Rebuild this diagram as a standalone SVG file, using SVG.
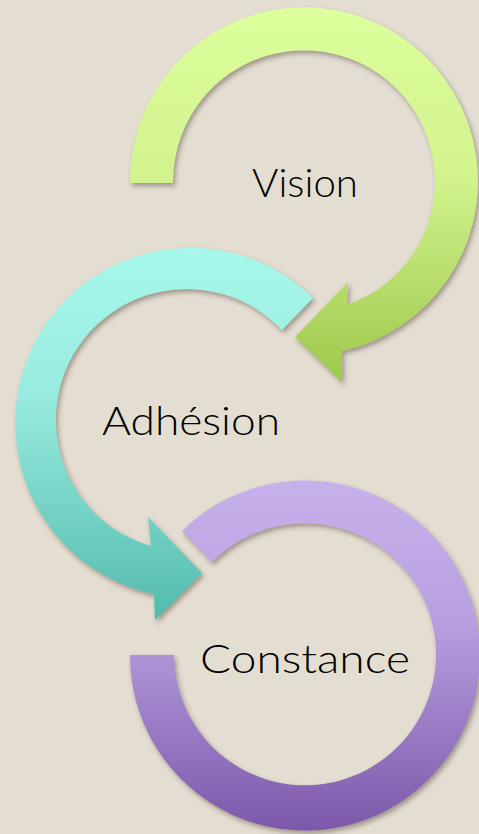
<svg xmlns="http://www.w3.org/2000/svg" width="479" height="834" viewBox="0 0 479 834">
  <defs>
    <linearGradient id="gGreen" x1="0" y1="0" x2="0" y2="1">
      <stop offset="0" stop-color="#dcfe9c"/>
      <stop offset="0.45" stop-color="#d2f38e"/>
      <stop offset="1" stop-color="#9ec84b"/>
    </linearGradient>
    <linearGradient id="gTeal" x1="0" y1="0" x2="0" y2="1">
      <stop offset="0" stop-color="#a6f8eb"/>
      <stop offset="0.4" stop-color="#98ebde"/>
      <stop offset="1" stop-color="#52bbad"/>
    </linearGradient>
    <linearGradient id="gPurple" x1="0" y1="0" x2="0" y2="1">
      <stop offset="0" stop-color="#c7b1eb"/>
      <stop offset="0.4" stop-color="#b8a0e0"/>
      <stop offset="1" stop-color="#7c58aa"/>
    </linearGradient>
    <filter id="shadow" x="-10%" y="-10%" width="125%" height="125%">
      <feDropShadow dx="2" dy="3" stdDeviation="2.5" flood-color="#4a3c2c" flood-opacity="0.45"/>
    </filter>
  </defs>
  <style>
    .lbl { font-family: "Lato", "Noto Sans", "DejaVu Sans", sans-serif; font-size: 40px; font-weight: 300; fill: #000000; text-anchor: middle; }
    .shape { filter: url(#shadow); }
  </style>
  <rect x="0" y="0" width="479" height="834" fill="#e3ddd2"/>
  <g id="connectors"></g>
  <g id="vision">
    <path class="shape" fill="url(#gGreen)" d="M 130,183 A 174 174 0 1 1 342,351 L 342,382 L 295,337 L 348,282 L 347,305 A 131 131 0 1 0 173,183 Z"/>
    <text class="lbl" x="305" y="197" textLength="106" lengthAdjust="spacingAndGlyphs">Vision</text>
  </g>
  <g id="adhesion">
    <path class="shape" fill="url(#gTeal)" d="M 313,298 A 175 175 0 1 0 154,594 L 155,620 L 202,573 L 148,517 L 151,546 A 131 131 0 1 1 282,330 Z"/>
    <text class="lbl" x="191" y="435" textLength="178" lengthAdjust="spacingAndGlyphs">Adhésion</text>
  </g>
  <g id="constance">
    <path class="shape" fill="url(#gPurple)" d="M 182,531 A 175 175 0 1 1 130,655 L 174,655 A 131 131 0 1 0 212,562 Z"/>
    <text class="lbl" x="305" y="673" textLength="210" lengthAdjust="spacingAndGlyphs">Constance</text>
  </g>
</svg>
